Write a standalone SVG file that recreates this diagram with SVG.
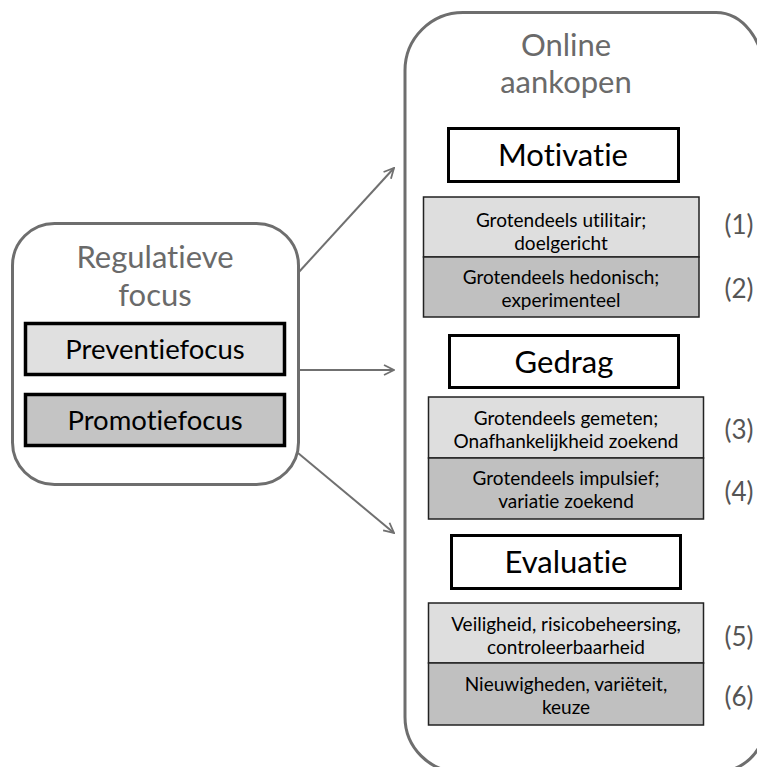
<svg xmlns="http://www.w3.org/2000/svg" width="757" height="767" viewBox="0 0 757 767" style="overflow:hidden">
<style>
text{font-variant-ligatures:none;font-feature-settings:"liga" 0}
.outer{fill:#fff;stroke:#6e6e6e;stroke-width:3}
.title{font-family:Lato,"Open Sans",sans-serif;font-size:31px;fill:#6a6a6a;text-anchor:middle}
.head{fill:#fff;stroke:#000;stroke-width:3}
.headt{font-family:Lato,"Open Sans",sans-serif;font-size:31px;fill:#000;text-anchor:middle}
.focus{stroke:#000;stroke-width:3.5}
.focust{font-family:Lato,"Open Sans",sans-serif;font-size:27.5px;fill:#000;text-anchor:middle}
.light{fill:#dedede;stroke:#222;stroke-width:1.5}
.dark{fill:#c0c0c0;stroke:#222;stroke-width:1.5}
.item{font-family:Lato,"Open Sans",sans-serif;font-size:19px;fill:#000;text-anchor:middle}
.num{font-family:Lato,"Open Sans",sans-serif;font-size:26px;fill:#555;text-anchor:middle}
.conn{stroke:#707070;stroke-width:2;fill:none}
</style>
<defs>
<marker id="arr" viewBox="0 0 12 12" refX="11" refY="6" markerWidth="12" markerHeight="12" markerUnits="userSpaceOnUse" orient="auto">
<path d="M1,1 L11,6 L1,11" fill="none" stroke="#707070" stroke-width="1.8"/>
</marker>
<clipPath id="page"><rect x="0" y="0" width="757" height="767"/></clipPath>
</defs>
<g id="connectors">
<line class="conn" x1="298" y1="273" x2="394" y2="168" marker-end="url(#arr)"/>
<line class="conn" x1="298" y1="370" x2="394" y2="370" marker-end="url(#arr)"/>
<line class="conn" x1="298" y1="453" x2="394" y2="533" marker-end="url(#arr)"/>
</g>
<g id="regulatieve-focus">
<rect class="outer" x="12.5" y="223.5" width="286" height="261" rx="42"/>
<text class="title" x="155" y="268">Regulatieve</text>
<text class="title" x="155" y="306">focus</text>
</g>
<g id="preventiefocus">
<rect class="focus" x="25.5" y="323.5" width="259" height="51" fill="#e0e0e0"/>
<text class="focust" x="155" y="359">Preventiefocus</text>
</g>
<g id="promotiefocus">
<rect class="focus" x="25.5" y="394.5" width="259" height="51" fill="#c4c4c4"/>
<text class="focust" x="155" y="430">Promotiefocus</text>
</g>
<g id="online-aankopen">
<path class="outer" clip-path="url(#page)" d="M463,12.5 H716 A48,62 0 0 1 764,74.5 V727 A48,45 0 0 1 716,772 H460 A55,55 0 0 1 405,717 V70.5 A58,58 0 0 1 463,12.5 Z"/>
<text class="title" x="566" y="56">Online</text>
<text class="title" x="566" y="93">aankopen</text>
</g>
<g id="motivatie">
<rect class="head" x="448.5" y="128.5" width="230" height="53"/>
<text class="headt" x="563" y="166">Motivatie</text>
</g>
<g id="item1">
<rect class="light" x="423.5" y="197" width="275.5" height="60"/>
<text class="item" x="561" y="227">Grotendeels utilitair;</text>
<text class="item" x="561" y="250">doelgericht</text>
<text class="num" x="739" y="234">(1)</text>
</g>
<g id="item2">
<rect class="dark" x="423.5" y="257" width="275.5" height="60"/>
<text class="item" x="561" y="284">Grotendeels hedonisch;</text>
<text class="item" x="561" y="307">experimenteel</text>
<text class="num" x="739" y="298">(2)</text>
</g>
<g id="gedrag">
<rect class="head" x="449.5" y="335.5" width="229" height="52"/>
<text class="headt" x="564" y="373">Gedrag</text>
</g>
<g id="item3">
<rect class="light" x="428.5" y="397" width="275" height="61"/>
<text class="item" x="566" y="425">Grotendeels gemeten;</text>
<text class="item" x="566" y="448">Onafhankelijkheid zoekend</text>
<text class="num" x="739" y="439">(3)</text>
</g>
<g id="item4">
<rect class="dark" x="428.5" y="458" width="275" height="61"/>
<text class="item" x="566" y="485">Grotendeels impulsief;</text>
<text class="item" x="566" y="508">variatie zoekend</text>
<text class="num" x="739" y="501">(4)</text>
</g>
<g id="evaluatie">
<rect class="head" x="451.5" y="535.5" width="229" height="53"/>
<text class="headt" x="566" y="573">Evaluatie</text>
</g>
<g id="item5">
<rect class="light" x="428.5" y="603" width="275" height="60"/>
<text class="item" x="566" y="631">Veiligheid, risicobeheersing,</text>
<text class="item" x="566" y="654">controleerbaarheid</text>
<text class="num" x="739" y="646">(5)</text>
</g>
<g id="item6">
<rect class="dark" x="428.5" y="663" width="275" height="62"/>
<text class="item" x="566" y="691">Nieuwigheden, variëteit,</text>
<text class="item" x="566" y="714">keuze</text>
<text class="num" x="739" y="706">(6)</text>
</g>
</svg>
